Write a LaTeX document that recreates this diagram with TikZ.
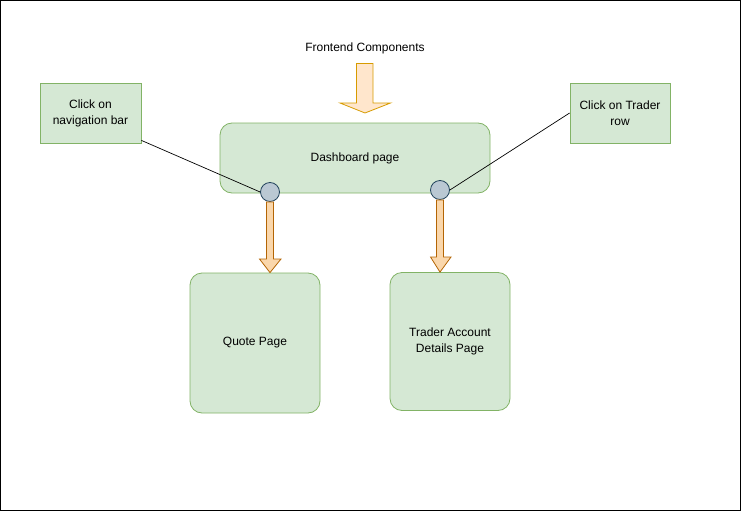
\documentclass[tikz,border=0pt]{standalone}
\usepackage{fontspec}
\setmainfont{Liberation Sans}
\usetikzlibrary{calc}
\definecolor{gfill}{HTML}{D5E8D4}
\definecolor{gline}{HTML}{82B366}
\definecolor{ofill}{HTML}{FFE6CC}
\definecolor{oline}{HTML}{D79B00}
\definecolor{afill}{HTML}{FAD7AC}
\definecolor{aline}{HTML}{B46504}
\definecolor{cfill}{HTML}{BAC8D3}
\definecolor{cline}{HTML}{23445D}
\tikzset{
  greenbox/.style={draw=gline, fill=gfill, line width=0.8pt, align=center, font=\fontsize{12}{16}\selectfont, inner sep=0pt},
  roundbox/.style={greenbox, rounded corners=12pt},
  dot/.style={circle, draw=cline, fill=cfill, line width=0.8pt, minimum size=19pt, inner sep=0pt},
  bigarrow/.style={draw=oline, fill=ofill, line width=0.8pt, line join=miter},
  smallarrow/.style={draw=aline, fill=afill, line width=0.8pt, line join=miter},
  link/.style={draw=black, line width=0.7pt}
}
\begin{document}
\begin{tikzpicture}[x=1pt,y=-1pt]
\useasboundingbox (0,0) rectangle (741,511);
\draw[line width=1.2pt] (0.6,0.6) rectangle (740.2,510.2);
\node[font=\fontsize{12}{16}\selectfont] (title) at (365,48) {Frontend Components};
\node[roundbox, minimum width=270pt, minimum height=70pt] (dash) at (355,158) {\raisebox{-1.5pt}{Dashboard page}};
\node[greenbox, minimum width=101pt, minimum height=60pt] (nav) at (90.5,113) {Click on\\navigation bar};
\node[greenbox, minimum width=100pt, minimum height=60pt] (trow) at (620,113) {Click on Trader\\row};
\node[roundbox, minimum width=130pt, minimum height=140pt] (quote) at (255,343) {\raisebox{-1.5pt}{Quote Page}};
\node[roundbox, minimum width=120pt, minimum height=138pt] (trader) at (450,341.5) {Trader Account\\Details Page};
\node[dot] (c1) at (270,192) {};
\node[dot] (c2) at (440,190) {};
% big arrow
\draw[bigarrow] (356.5,63.5) -- (373,63.5) -- (373,103) -- (390.5,103) -- (365,113) -- (340,103) -- (356.5,103) -- cycle;
% small arrows
\draw[smallarrow] (c1.south -| 266.5,0) -- (c1.south -| 273.5,0) -- (273.5,259) -- (281,259) -- (quote.north -| 270,0) -- (259.5,259) -- (266.5,259) -- cycle;
\draw[smallarrow] (c2.south -| 436.5,0) -- (c2.south -| 443.5,0) -- (443.5,257) -- (451,257) -- (trader.north -| 440,0) -- (430.5,257) -- (436.5,257) -- cycle;
% links
\draw[link] (nav.south east) ++(0,-3) -- (c1.west);
\draw[link] (trow.west) -- (c2.east);
\end{tikzpicture}
\end{document}
